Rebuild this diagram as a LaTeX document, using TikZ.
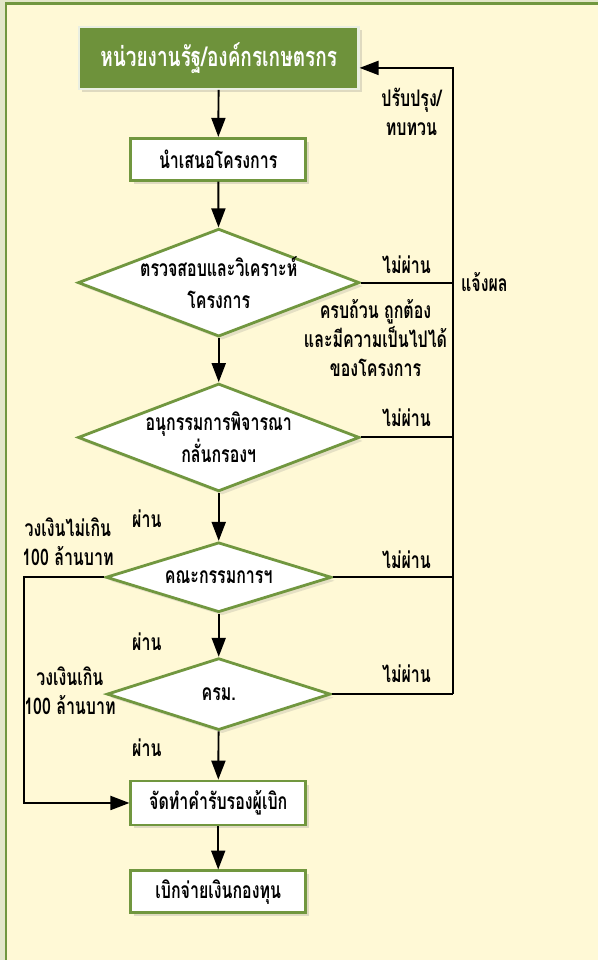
\documentclass[tikz,border=0pt]{standalone}
\usepackage{fontspec}
\newfontfamily\thaifont[Script=Thai, FakeStretch=0.7]{Loma}
\usetikzlibrary{shapes.geometric,arrows.meta,shadows}
\definecolor{leaf}{HTML}{71973F}
\definecolor{leafdark}{HTML}{6E923B}
\definecolor{paper}{HTML}{FFF9D6}
\definecolor{margin}{HTML}{E3E7C9}

\begin{document}
\begin{tikzpicture}
        [x=0.02cm, y=-0.02cm,
        box/.style={rectangle, draw=leaf, line width=1.6pt, fill=white, minimum width=3.5cm, minimum height=0.84cm,
          font=\thaifont\bfseries\fontsize{13}{16}\selectfont, drop shadow={opacity=0.25, shadow xshift=2pt, shadow yshift=-2pt}},
        head/.style={box, fill=leafdark, draw=white!85!leaf, line width=1.2pt, text=white, minimum width=5.6cm, minimum height=1.24cm,
          font=\thaifont\bfseries\fontsize{15.5}{16}\selectfont},
        check/.style={diamond, draw=leaf, line width=1.6pt, fill=white, inner sep=0pt,
          drop shadow={opacity=0.2, shadow xshift=2pt, shadow yshift=-2pt}},
        lbl/.style={align=center, font=\thaifont\bfseries\fontsize{13}{18}\selectfont},
        note/.style={align=center, font=\thaifont\bfseries\fontsize{13}{16.5}\selectfont},
        line/.style={black, line width=1.1pt},
        arr/.style={line, -{Triangle[length=0.38cm, width=0.28cm]}}]

        % panel
        \fill[margin] (0,0) rectangle (599,961);
        \fill[paper] (6,3.5) rectangle (599,961);
        \draw[leaf, line width=1.4pt] (6.2,961) -- (6.2,3.5) -- (599,3.5);
        \useasboundingbox (0,0) rectangle (599,961);

        \node[head] (org) at (219,58) {หน่วยงานรัฐ/องค์กรเกษตรกร};
        \node[box] (offer) at (218.5,159.5) {นำเสนอโครงการ};
        \node[check, minimum width=5.64cm, minimum height=2.16cm,
              label={[lbl]center:ตรวจสอบและวิเคราะห์\\โครงการ}] (review) at (219,283) {};
        \node[check, minimum width=5.64cm, minimum height=2.16cm,
              label={[lbl]center:อนุกรรมการพิจารณา\\กลั่นกรองฯ}] (subcom) at (219,438) {};
        \node[check, minimum width=4.52cm, minimum height=1.4cm,
              label={[lbl]center:คณะกรรมการฯ}] (board) at (219,578) {};
        \node[check, minimum width=4.48cm, minimum height=1.44cm,
              label={[lbl]center:ครม.}] (cabinet) at (219,695) {};
        \node[box, minimum height=0.88cm] (pledge) at (218.5,804) {จัดทำคำรับรองผู้เบิก};
        \node[box] (pay) at (218.5,893) {เบิกจ่ายเงินกองทุน};

        % turning points of the return lines
        \coordinate (rtop) at (454,68);
        \coordinate (rbot) at (454,695);
        \coordinate (lft) at (24,804);

        % main flow
        \draw[arr] (org) -- (offer);
        \draw[arr] (offer) -- (review);
        \draw[arr] (review) -- (subcom);
        \draw[arr] (subcom) -- (board);
        \draw[arr] (board) -- (cabinet);
        \draw[arr] (cabinet) -- (pledge);
        \draw[arr] (pledge) -- (pay);

        % failed -> back to the agency
        \draw[line] (review.east) -- (review.east -| rtop);
        \draw[line] (subcom.east) -- (subcom.east -| rtop);
        \draw[line] (board.east) -- (board.east -| rtop);
        \draw[line] (cabinet.east) -- (rbot);
        \draw[arr] (rbot) -- (rtop) -- (org.east |- rtop);

        % small budget skips the cabinet
        \draw[arr] (board.west) -| (lft) -- (pledge.west);

        % labels
        \node[note] (fix) at (412,112) {ปรับปรุง/\\ทบทวน};
        \node[note] (inform) at (485,282) {แจ้งผล};
        \node[note] (no1) at (407,265) {ไม่ผ่าน};
        \node[note] (ok1) at (376,338) {ครบถ้วน ถูกต้อง\\และมีความเป็นไปได้\\ของโครงการ};
        \node[note] (no2) at (407,418) {ไม่ผ่าน};
        \node[note] (no3) at (407,560) {ไม่ผ่าน};
        \node[note] (no4) at (407,675) {ไม่ผ่าน};
        \node[note] (yes1) at (147,519) {ผ่าน};
        \node[note] (yes2) at (147,643) {ผ่าน};
        \node[note] (yes3) at (147,749) {ผ่าน};
        \node[note] (low) at (68,542) {วงเงินไม่เกิน\\100 ล้านบาท};
        \node[note] (high) at (70,692) {วงเงินเกิน\\100 ล้านบาท};

\end{tikzpicture}
\end{document}
